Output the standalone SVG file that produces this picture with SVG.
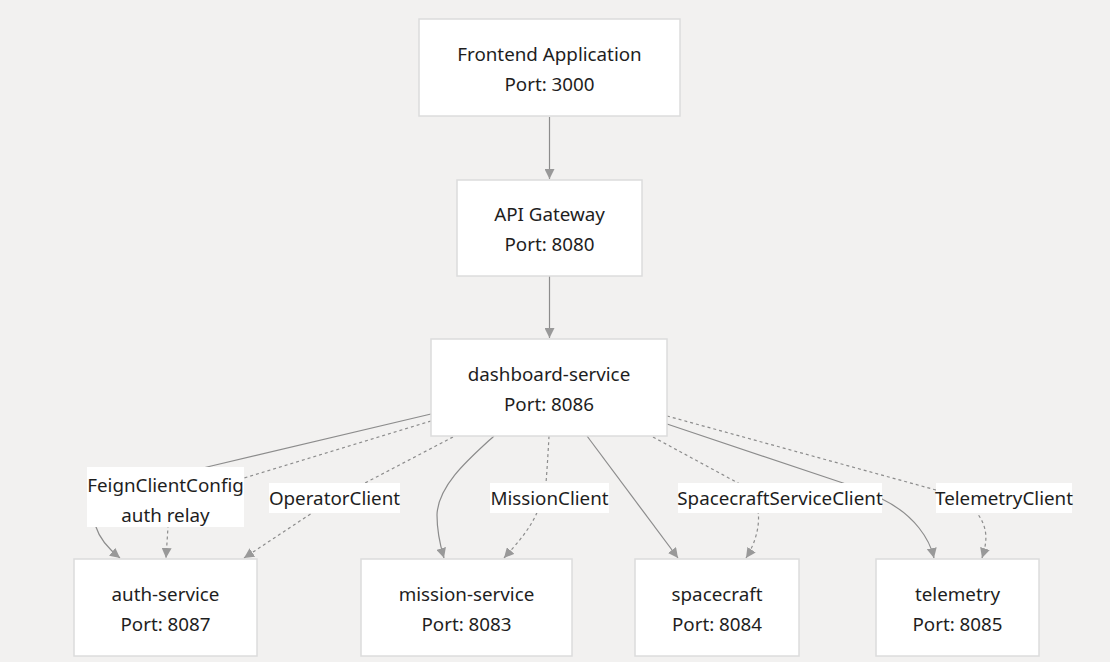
<svg xmlns="http://www.w3.org/2000/svg" width="1110" height="662" viewBox="0 0 1110 662">
<defs>
<style>
.bg{fill:#f2f1f0}
.node rect{fill:#ffffff;stroke:#dcdcdc;stroke-width:1.5}
text{font-family:"Noto Sans","Open Sans","Liberation Sans",sans-serif;font-size:18.8px;fill:#1e1e1e;text-anchor:middle}
.e{fill:none;stroke:#8c8c8c;stroke-width:1.2}
.d{stroke-dasharray:3 3}
.lbl rect{fill:#ffffff}
</style>
<marker id="ah" viewBox="0 0 10 10" refX="10" refY="5" markerWidth="10" markerHeight="10" markerUnits="userSpaceOnUse" orient="auto">
<path d="M0,0 L10,5 L0,10 Z" fill="#999999"/>
</marker>
</defs>
<rect class="bg" x="0" y="0" width="1110" height="662"/>

<g id="connectors">
<path class="e" d="M549.5,117 L549.5,179" marker-end="url(#ah)"/>
<path class="e" d="M549.5,276 L549.5,338" marker-end="url(#ah)"/>
<path class="e" d="M431,414 L207,467 C130,485 88,505 96,527 C100,540 110,550 120,558" marker-end="url(#ah)"/>
<path class="e d" d="M431,421 L244,478 C200,490 170,505 168,527 L166,558" marker-end="url(#ah)"/>
<path class="e d" d="M453,437 L365,483 C340,495 320,508 312,513 L244,558" marker-end="url(#ah)"/>
<path class="e" d="M494,436 C470,458 438,485 437,515 C437,535 441,548 444,558" marker-end="url(#ah)"/>
<path class="e d" d="M549,436 C548,455 547,470 546,483 C540,520 520,540 504,558" marker-end="url(#ah)"/>
<path class="e" d="M587,436 L678,558" marker-end="url(#ah)"/>
<path class="e d" d="M653,437 L738,483 C770,500 758,540 746,558" marker-end="url(#ah)"/>
<path class="e" d="M667,424 L843,483 C860,489 872,494 882,499 C915,515 930,540 934,558" marker-end="url(#ah)"/>
<path class="e d" d="M667,416 L936,490 C960,497 975,505 977,513 C990,530 986,545 982,558" marker-end="url(#ah)"/>
</g>

<g id="edge-labels">
<g class="lbl"><rect x="87" y="467" width="157" height="60"/><text x="165.5" y="492">FeignClientConfig</text><text x="165.5" y="522">auth relay</text></g>
<g class="lbl"><rect x="269" y="483" width="131" height="30"/><text x="334.5" y="505">OperatorClient</text></g>
<g class="lbl"><rect x="490" y="483" width="119" height="30"/><text x="549.5" y="505">MissionClient</text></g>
<g class="lbl"><rect x="678" y="483" width="204" height="30"/><text x="780" y="505">SpacecraftServiceClient</text></g>
<g class="lbl"><rect x="936" y="483" width="136" height="30"/><text x="1004" y="505">TelemetryClient</text></g>
</g>

<g id="frontend" class="node"><rect x="419" y="19" width="261" height="97"/><text x="549.5" y="61">Frontend Application</text><text x="549.5" y="91">Port: 3000</text></g>
<g id="gateway" class="node"><rect x="457" y="180" width="185" height="96"/><text x="549.5" y="221">API Gateway</text><text x="549.5" y="251">Port: 8080</text></g>
<g id="dashboard" class="node"><rect x="431" y="339" width="236" height="97"/><text x="549" y="381">dashboard-service</text><text x="549" y="411">Port: 8086</text></g>
<g id="auth" class="node"><rect x="74" y="559" width="183" height="97"/><text x="165.5" y="601">auth-service</text><text x="165.5" y="631">Port: 8087</text></g>
<g id="mission" class="node"><rect x="361" y="559" width="211" height="97"/><text x="466.5" y="601">mission-service</text><text x="466.5" y="631">Port: 8083</text></g>
<g id="spacecraft" class="node"><rect x="635" y="559" width="164" height="97"/><text x="717" y="601">spacecraft</text><text x="717" y="631">Port: 8084</text></g>
<g id="telemetry" class="node"><rect x="876" y="559" width="163" height="97"/><text x="957.5" y="601">telemetry</text><text x="957.5" y="631">Port: 8085</text></g>
</svg>
